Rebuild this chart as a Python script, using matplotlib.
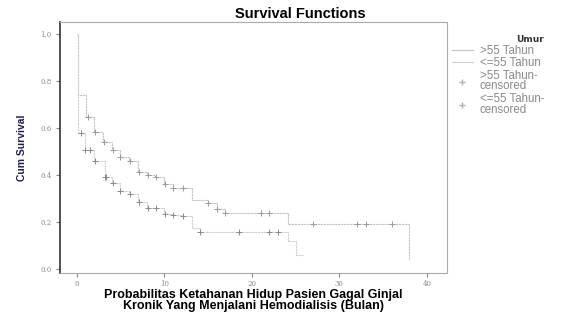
import matplotlib
matplotlib.use("Agg")
import matplotlib.pyplot as plt
from matplotlib.lines import Line2D
import numpy as np

# Kaplan-Meier step data
upper_t = [0, 0.2, 1.1, 2.0, 3.0, 4.0, 5.0, 6.0, 7.0, 8.0, 9.0, 10.0, 11.0, 13.2, 15.0, 16.0, 17.0, 24.1, 38.0]
upper_s = [1.0, 0.74, 0.645, 0.584, 0.540, 0.506, 0.478, 0.457, 0.414, 0.400, 0.389, 0.360, 0.343, 0.294, 0.279, 0.257, 0.237, 0.190, 0.04]
upper_cens = [1.3, 2.1, 3.1, 4.1, 5.0, 6.1, 7.1, 8.1, 9.1, 10.1, 11.0, 12.1, 15.0, 16.0, 17.0, 21.0, 22.0, 27.0, 32.0, 33.0, 36.0]

lower_t = [0, 0.2, 0.9, 2.0, 3.2, 4.0, 5.0, 6.0, 7.0, 8.0, 10.0, 11.0, 12.0, 13.2, 14.1, 24.1, 25.1]
lower_s = [1.0, 0.58, 0.506, 0.46, 0.393, 0.364, 0.33, 0.318, 0.285, 0.26, 0.233, 0.228, 0.224, 0.175, 0.159, 0.12, 0.06]
lower_end = 26.0
lower_cens = [0.5, 1.0, 1.5, 2.1, 3.2, 3.4, 4.1, 5.0, 6.1, 7.1, 8.1, 9.1, 10.1, 11.0, 12.1, 14.1, 18.6, 22.0, 23.0]

x_ticks = [0, 10, 20, 30, 40]
y_ticks = [0.0, 0.2, 0.4, 0.6, 0.8, 1.0]
legend_labels = [">55 Tahun", "<=55 Tahun", ">55 Tahun-\ncensored", "<=55 Tahun-\ncensored"]

def step_val(ts, ss, x):
    idx = np.searchsorted(ts, x, side="right") - 1
    return ss[idx]

fig = plt.figure(figsize=(5.63, 3.25), dpi=100)
ax = fig.add_axes([60/563, 1-273/325, 387/563, 251/325])

c_up = "#c4c4c4"
c_lo = "#cfcfcf"
ax.step(upper_t, upper_s, where="post", color=c_up, lw=0.8, ls=(0, (2, 0.6)))
ax.step(lower_t + [lower_end], lower_s + [lower_s[-1]], where="post", color=c_lo, lw=0.8, ls=(0, (2, 0.6)))
ax.plot(upper_cens, [step_val(upper_t, upper_s, x) for x in upper_cens], "+",
        color="#9a9a9a", ms=4, mew=0.7, ls="none")
ax.plot(lower_cens, [step_val(lower_t, lower_s, x) for x in lower_cens], "+",
        color="#8a8a8a", ms=4, mew=0.7, ls="none")

ax.set_xlim(-1.9, 42.3)
ax.set_ylim(-0.017, 1.05)
ax.set_xticks(x_ticks)
ax.set_yticks(y_ticks)
ax.set_xticklabels([str(v) for v in x_ticks], fontsize=5, color="#888888", family="DejaVu Serif")
ax.set_yticklabels([f"{v:.1f}" for v in y_ticks], fontsize=5, color="#888888", family="DejaVu Serif")
ax.tick_params(axis="x", length=3, direction="out", color="#888888", pad=2)
ax.tick_params(axis="y", length=3, direction="out", color="#888888", pad=3)

for s in ["top", "right", "bottom"]:
    ax.spines[s].set_linestyle((0, (1, 1)))
    ax.spines[s].set_color("#aaaaaa")
    ax.spines[s].set_linewidth(0.8)
ax.spines["left"].set_color("#333333")
ax.spines["left"].set_linewidth(1.2)

ax.set_title("Survival Functions", fontsize=10.5, fontweight="bold", family="Liberation Sans",
             x=0.62, pad=3)
ax.set_ylabel("Cum Survival", fontsize=7.5, fontweight="bold", family="Liberation Sans",
              color="#1f1f4f", labelpad=10)
ax.set_xlabel("Probabilitas Ketahanan Hidup Pasien Gagal Ginjal\nKronik Yang Menjalani Hemodialisis (Bulan)",
              fontsize=9, fontweight="bold", family="Liberation Sans", linespacing=0.9, labelpad=1)

handles = [
    Line2D([], [], color=c_up, lw=0.8),
    Line2D([], [], color=c_lo, lw=0.8),
    Line2D([], [], color="#b0b0b0", marker="+", ls="none", ms=4),
    Line2D([], [], color="#b0b0b0", marker="+", ls="none", ms=4),
]
leg = fig.legend(handles, legend_labels, loc="upper left", bbox_to_anchor=(452/563, 1-35/325),
                 frameon=False, title="Umur", handlelength=1.8, handletextpad=0.6,
                 labelspacing=0.05, borderaxespad=0, borderpad=0,
                 prop={"family": "Liberation Sans", "size": 8.3})
leg.get_title().set_fontsize(6.5)
leg.get_title().set_fontweight("bold")
leg.get_title().set_color("#333333")
leg._legend_box.align = "right"
for t in leg.get_texts():
    t.set_color("#8a8a8a")
    t.set_linespacing(0.85)

fig.savefig("out.png", dpi=100)
